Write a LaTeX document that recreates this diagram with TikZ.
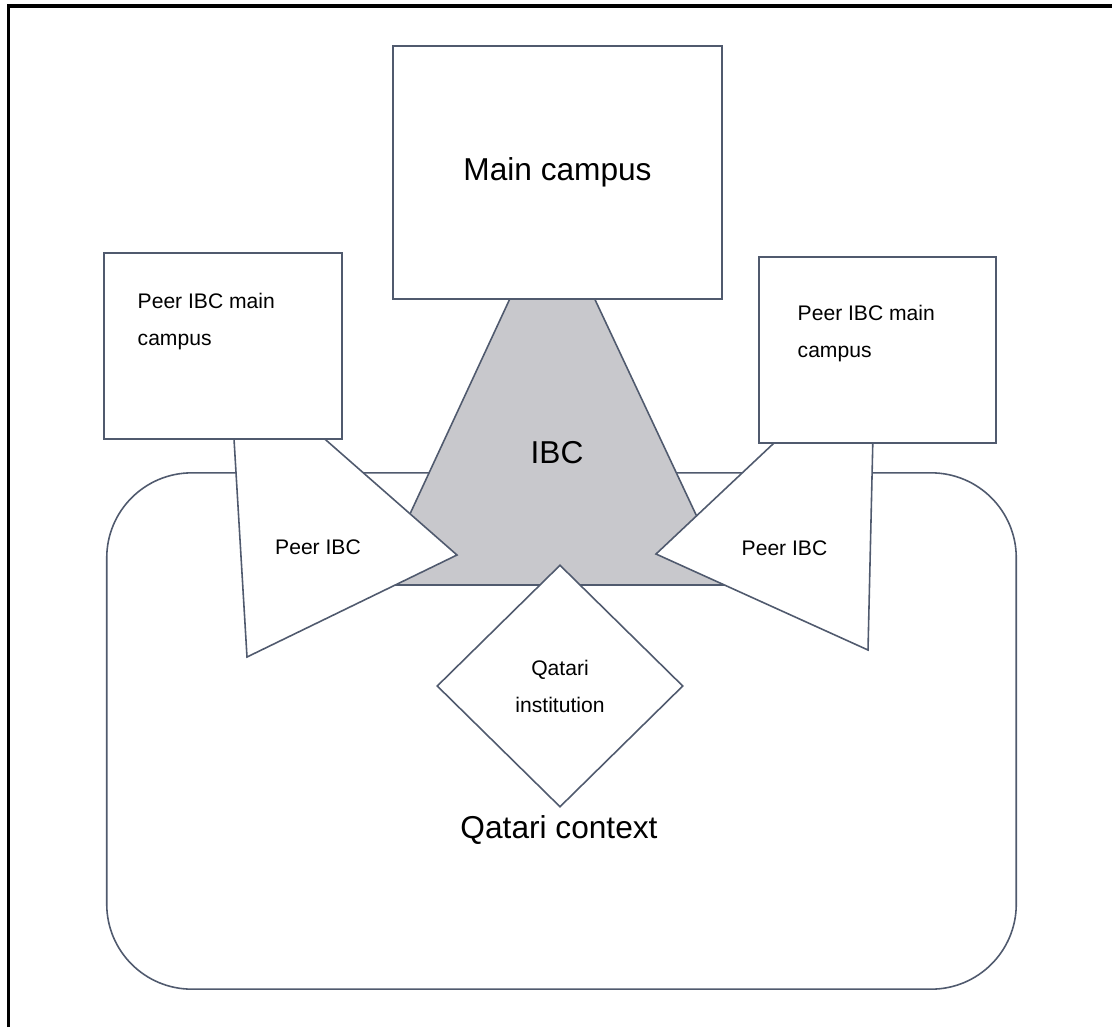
\documentclass[tikz,border=0pt]{standalone}
\usepackage{fontspec}
\setmainfont{Liberation Sans}
\usepackage{xcolor}
\usetikzlibrary{shapes.geometric}

\definecolor{edgeblue}{RGB}{80,90,110}
\definecolor{ibcgray}{RGB}{200,200,204}

\tikzset{
  outline/.style={draw=edgeblue, line width=0.45pt, line join=miter},
  campusbox/.style={outline, fill=white, rectangle, inner sep=0pt},
  bigtext/.style={font=\fontsize{9}{11}\selectfont},
  smalltext/.style={font=\fontsize{6}{10.5}\selectfont, inner sep=0pt},
}

\begin{document}
\begin{tikzpicture}[x=0.01cm, y=-0.01cm]
  \useasboundingbox (0,0) rectangle (1112,1027);
  % outer frame
  \draw[line width=0.9pt] (8.5,1027) -- (8.5,6) -- (1112,6);

  % Qatari context
  \node[campusbox, rounded corners=0.85cm, minimum width=9.09cm,
    minimum height=5.16cm] (context) at (561.5,731) {};
  \node[bigtext] (contextlabel) at (559,830) {Qatari context};

  % IBC
  \draw[outline, fill=ibcgray] (552,208) -- (729,585) -- (377,585) -- cycle;
  \node[bigtext] (ibc) at (557,453) {IBC};

  % peer IBCs
  \draw[outline, fill=white] (229,355) -- (457,555) -- (247,657) -- cycle;
  \node[smalltext] (lpeer) at (318,547) {Peer IBC};
  \draw[outline, fill=white] (875,348) -- (656,554) -- (868,650) -- cycle;
  \node[smalltext] (rpeer) at (784.5,548) {Peer IBC};

  % campuses
  \node[campusbox, bigtext, minimum width=3.29cm, minimum height=2.53cm]
    (main) at (557.5,172.5) {Main campus};
  \node[campusbox, minimum width=2.38cm, minimum height=1.86cm]
    (lmain) at (223,346) {};
  \node[smalltext, anchor=west, align=left] (lmainlabel) at (137,321.5)
    {Peer IBC main\\campus};
  \node[campusbox, minimum width=2.37cm, minimum height=1.86cm]
    (rmain) at (877.5,350) {};
  \node[smalltext, anchor=west, align=left] (rmainlabel) at (797,333.5)
    {Peer IBC main\\campus};

  % Qatari institution
  \node[diamond, outline, fill=white, smalltext, align=center,
    minimum width=2.46cm, minimum height=2.42cm] (qinst) at (560,686)
    {Qatari\\institution};
\end{tikzpicture}
\end{document}
